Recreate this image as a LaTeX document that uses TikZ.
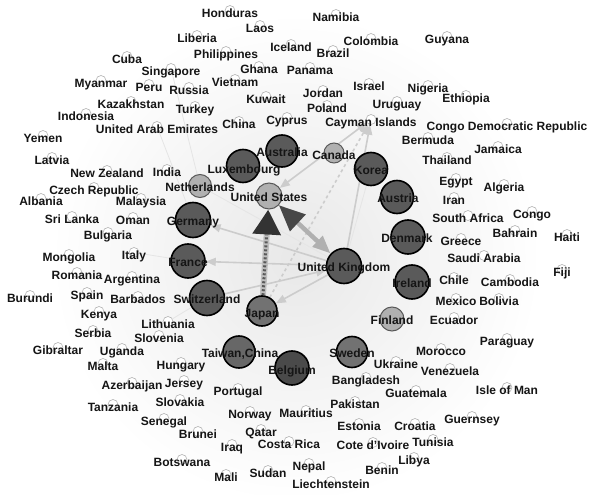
\documentclass[tikz,border=0pt]{standalone}
\usepackage{fontspec}
\setmainfont{Liberation Sans}
\usetikzlibrary{arrows.meta}
\pgfdeclarelayer{bg}
\pgfsetlayers{bg,main}
\definecolor{bignode}{HTML}{5A5A5A}
\definecolor{darknode}{HTML}{4A4A4A}
\definecolor{litenode}{HTML}{727272}
\definecolor{midnode}{HTML}{B0B0B0}
\definecolor{labelc}{HTML}{151515}
\tikzset{
  smallc/.style={circle,draw=gray!60,fill=white,line width=0.6pt,minimum size=10pt,inner sep=0pt},
  lbl/.style={inner sep=0pt,font=\bfseries\fontsize{12}{12}\selectfont,text=labelc,anchor=base},
  bigc/.style={circle,draw=black,line width=1.6pt,fill=bignode,inner sep=0pt,minimum size=#1},
  midc/.style={circle,draw=black!65,line width=1pt,fill=midnode,inner sep=0pt,minimum size=#1},
  lite/.style={line width=1.6pt,draw=gray!40,-{Triangle[length=10pt,width=8pt]}},
  faint/.style={line width=0.8pt,draw=gray!20},
}
\newcommand\cn[4]{\node[smallc] (#1) at (#2,#3-2.5) {}; \node[lbl] (#1t) at (#2,#3+4.3) {#4};}
\begin{document}
\begin{tikzpicture}[x=1pt,y=-1pt]
\useasboundingbox (0,0) rectangle (590,495);
\begin{pgfonlayer}{bg}
\fill[white] (0,0) rectangle (590,495);
\shade[inner color=gray!18, outer color=white] (296,258) circle[radius=245];
\end{pgfonlayer}
% small nodes
\cn{honduras}{230}{13}{Honduras}
\cn{laos}{260}{28}{Laos}
\cn{namibia}{336}{17}{Namibia}
\cn{liberia}{197}{38}{Liberia}
\cn{iceland}{291}{47}{Iceland}
\cn{colombia}{371}{41}{Colombia}
\cn{guyana}{447}{39}{Guyana}
\cn{philippines}{226}{54}{Philippines}
\cn{brazil}{333}{53}{Brazil}
\cn{cuba}{127}{59}{Cuba}
\cn{singapore}{171}{71}{Singapore}
\cn{ghana}{259}{69}{Ghana}
\cn{panama}{310}{70}{Panama}
\cn{myanmar}{101}{83}{Myanmar}
\cn{peru}{149}{87}{Peru}
\cn{russia}{189}{90}{Russia}
\cn{vietnam}{235}{82}{Vietnam}
\cn{israel}{369}{86}{Israel}
\cn{nigeria}{428}{88}{Nigeria}
\cn{jordan}{323}{93}{Jordan}
\cn{ethiopia}{466}{98}{Ethiopia}
\cn{kuwait}{266}{99}{Kuwait}
\cn{kazakhstan}{131}{104}{Kazakhstan}
\cn{turkey}{195}{109}{Turkey}
\cn{poland}{327}{108}{Poland}
\cn{uruguay}{397}{104}{Uruguay}
\cn{indonesia}{86}{116}{Indonesia}
\cn{uae}{157}{129}{United Arab Emirates}
\cn{china}{239}{124}{China}
\cn{cyprus}{287}{120}{Cyprus}
\cn{cayman}{371}{122}{Cayman Islands}
\cn{congodr}{507}{126}{Congo Democratic Republic}
\cn{yemen}{43}{138}{Yemen}
\cn{bermuda}{428}{140}{Bermuda}
\cn{jamaica}{498}{149}{Jamaica}
\cn{latvia}{52}{160}{Latvia}
\cn{thailand}{447}{160}{Thailand}
\cn{newzealand}{107}{173}{New Zealand}
\cn{india}{167}{172}{India}
\cn{czech}{94}{190}{Czech Republic}
\cn{egypt}{456}{181}{Egypt}
\cn{algeria}{504}{187}{Algeria}
\cn{albania}{41}{201}{Albania}
\cn{malaysia}{141}{201}{Malaysia}
\cn{iran}{454}{200}{Iran}
\cn{srilanka}{72}{219}{Sri Lanka}
\cn{oman}{133}{220}{Oman}
\cn{southafrica}{468}{218}{South Africa}
\cn{congo}{532}{214}{Congo}
\cn{bulgaria}{108}{235}{Bulgaria}
\cn{bahrain}{515}{233}{Bahrain}
\cn{haiti}{567}{237}{Haiti}
\cn{greece}{461}{241}{Greece}
\cn{mongolia}{69}{257}{Mongolia}
\cn{italy}{134}{255}{Italy}
\cn{saudi}{484}{258}{Saudi Arabia}
\cn{romania}{77}{275}{Romania}
\cn{argentina}{132}{279}{Argentina}
\cn{fiji}{562}{272}{Fiji}
\cn{chile}{454}{280}{Chile}
\cn{cambodia}{510}{282}{Cambodia}
\cn{burundi}{30}{298}{Burundi}
\cn{spain}{87}{295}{Spain}
\cn{barbados}{138}{299}{Barbados}
\cn{mexico}{456}{301}{Mexico}
\cn{bolivia}{499}{301}{Bolivia}
\cn{kenya}{99}{314}{Kenya}
\cn{ecuador}{454}{320}{Ecuador}
\cn{lithuania}{168}{324}{Lithuania}
\cn{serbia}{93}{333}{Serbia}
\cn{slovenia}{159}{338}{Slovenia}
\cn{paraguay}{507}{341}{Paraguay}
\cn{gibraltar}{58}{350}{Gibraltar}
\cn{uganda}{122}{351}{Uganda}
\cn{morocco}{441}{351}{Morocco}
\cn{malta}{103}{366}{Malta}
\cn{hungary}{181}{365}{Hungary}
\cn{ukraine}{396}{364}{Ukraine}
\cn{venezuela}{450}{371}{Venezuela}
\cn{bangladesh}{366}{380}{Bangladesh}
\cn{azerbaijan}{132}{385}{Azerbaijan}
\cn{jersey}{184}{383}{Jersey}
\cn{portugal}{238}{391}{Portugal}
\cn{guatemala}{416}{393}{Guatemala}
\cn{isleofman}{507}{390}{Isle of Man}
\cn{tanzania}{113}{407}{Tanzania}
\cn{slovakia}{180}{402}{Slovakia}
\cn{pakistan}{355}{404}{Pakistan}
\cn{norway}{250}{414}{Norway}
\cn{mauritius}{306}{413}{Mauritius}
\cn{guernsey}{472}{419}{Guernsey}
\cn{senegal}{164}{421}{Senegal}
\cn{estonia}{359}{426}{Estonia}
\cn{croatia}{415}{426}{Croatia}
\cn{brunei}{198}{434}{Brunei}
\cn{qatar}{261}{432}{Qatar}
\cn{iraq}{232}{447}{Iraq}
\cn{costarica}{289}{444}{Costa Rica}
\cn{cotedivoire}{373}{445}{Cote d'Ivoire}
\cn{tunisia}{433}{442}{Tunisia}
\cn{botswana}{182}{462}{Botswana}
\cn{libya}{414}{460}{Libya}
\cn{nepal}{309}{466}{Nepal}
\cn{benin}{382}{470}{Benin}
\cn{mali}{226}{477}{Mali}
\cn{sudan}{268}{473}{Sudan}
\cn{liechtenstein}{331}{484}{Liechtenstein}
% large nodes
\node[bigc=35pt] (uk) at (344,266) {};
\node[midc=26pt] (us) at (269,196) {};
\node[bigc=30pt,fill=litenode] (jp) at (262,311) {};
\node[bigc=35pt] (de) at (193,220) {};
\node[bigc=34pt] (fr) at (188,261) {};
\node[bigc=35pt] (ch) at (207,298) {};
\node[midc=23pt] (nl) at (200,186) {};
\node[bigc=33pt] (lu) at (243,166) {};
\node[bigc=32pt] (au) at (282,151) {};
\node[midc=20pt] (ca) at (334,153) {};
\node[bigc=33pt] (kr) at (371,169) {};
\node[bigc=33pt] (aut) at (397,197) {};
\node[bigc=34pt] (dk) at (408,237) {};
\node[bigc=34pt] (ie) at (412,282) {};
\node[midc=24pt] (fi) at (392,319) {};
\node[bigc=31pt,fill=litenode] (se) at (352,352) {};
\node[bigc=34pt,fill=darknode] (be) at (292,368) {};
\node[bigc=32pt,fill=litenode!90!black] (tw) at (239,352) {};
% labels of large nodes
\node[lbl] (ukt) at (344,271.3) {United Kingdom};
\node[lbl] (ust) at (269,201.3) {United States};
\node[lbl] (jpt) at (262,317.3) {Japan};
\node[lbl] (det) at (193,225.3) {Germany};
\node[lbl] (frt) at (188,266.3) {France};
\node[lbl] (cht) at (207,303.3) {Switzerland};
\node[lbl] (nlt) at (200,191.3) {Netherlands};
\node[lbl] (lut) at (244,173.3) {Luxembourg};
\node[lbl] (aust) at (282,156.3) {Australia};
\node[lbl] (cat) at (334,159.3) {Canada};
\node[lbl] (krt) at (371,174.3) {Korea};
\node[lbl] (autt) at (398,202.3) {Austria};
\node[lbl] (dkt) at (407,242.3) {Denmark};
\node[lbl] (iet) at (412,287.3) {Ireland};
\node[lbl] (fit) at (392,324.3) {Finland};
\node[lbl] (set) at (352,357.3) {Sweden};
\node[lbl] (bet) at (292,374.3) {Belgium};
\node[lbl] (twt) at (240,357.3) {Taiwan,China};
% edges
\begin{pgfonlayer}{bg}
\draw[faint] (singapore) -- (nl);
\draw[faint] (italy) -- (fr);
\draw[faint] (uae) -- (de);
\draw[faint] (lithuania) -- (ch);
\draw[faint] (nl) -- (uk);
\draw[faint] (kr) -- (uk);
\draw[lite] (uk) -- (de);
\draw[lite] (uk) -- (fr);
\draw[lite] (uk) -- (jp);
\draw[lite] (ch) -- (uk);
\draw[lite] (uk) -- (cayman);
\draw[lite,dashed] (jp) -- (cayman);
\draw[lite,{Triangle[length=10pt,width=8pt]}-{Triangle[length=10pt,width=8pt]}] (us) -- (cayman);
\draw[line width=4.5pt,draw=gray!62,{Triangle[length=18pt,width=14pt,color=gray!62]}-{Triangle[length=26pt,width=22pt,color=black!72]}] (uk) -- (us);
\draw[line width=6pt,draw=gray!50,-{Triangle[length=25pt,width=27pt,color=black!80]}] (jp) -- (us);
\draw[line width=3pt,draw=black!65,dash pattern=on 2pt off 2pt,shorten >=25pt] (jp) -- (us);
\end{pgfonlayer}
\end{tikzpicture}
\end{document}
